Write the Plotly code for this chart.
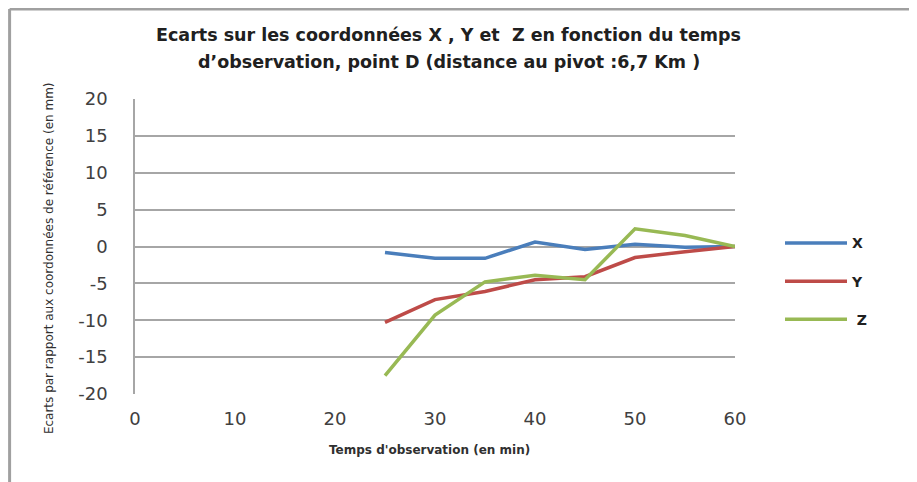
import plotly.graph_objects as go

temps = [25, 30, 35, 40, 45, 50, 55, 60]
ecart_x = [-0.8, -1.6, -1.6, 0.6, -0.4, 0.3, -0.1, 0.0]
ecart_y = [-10.3, -7.2, -6.1, -4.5, -4.1, -1.5, -0.7, 0.0]
ecart_z = [-17.5, -9.3, -4.8, -3.9, -4.5, 2.4, 1.5, 0.0]
series_names = ["X", "Y", " Z"]
x_ticks = [0, 10, 20, 30, 40, 50, 60]
y_ticks = [-20, -15, -10, -5, 0, 5, 10, 15, 20]
y_tick_labels = ["-20", "-15", "-10", "-5", "0", "5", "10", "15", "20"]

title_line1 = "Ecarts sur les coordonnées X , Y et  Z en fonction du temps"
title_line2 = "d’observation, point D (distance au pivot :6,7 Km )"
x_title = "Temps d'observation (en min)"
y_title = "Ecarts par rapport aux coordonnées de référence (en mm)"

colors = ["#4A7EBB", "#BE4B48", "#98B954"]
FONT = "DejaVu Sans"

fig = go.Figure()
for i, (name, vals) in enumerate(zip(series_names, [ecart_x, ecart_y, ecart_z])):
    fig.add_trace(go.Scatter(
        x=temps, y=vals, mode="lines", name=name,
        legendgroup=str(i),
        line=dict(color=colors[i], width=3.5),
    ))

title_font = dict(family=FONT, size=17.5, color="#202020", weight="bold")

fig.update_layout(
    width=917, height=482,
    margin=dict(l=127, r=190, t=91, b=96),
    paper_bgcolor="white", plot_bgcolor="white",
    font=dict(family=FONT, color="#404040"),
    showlegend=True,
    legend=dict(
        x=1.075, y=0.565, xanchor="left", yanchor="top",
        font=dict(family=FONT, size=14, color="#202020", weight="bold"),
        tracegroupgap=17, bgcolor="rgba(0,0,0,0)", itemwidth=62,
    ),
    xaxis=dict(
        range=[0, 60], tickvals=x_ticks, showgrid=False, zeroline=False,
        showline=False, ticks="", ticklabelstandoff=12,
        tickfont=dict(size=18, color="#404040", family=FONT),
        fixedrange=True,
    ),
    yaxis=dict(
        range=[-20, 20], tickvals=y_ticks, ticktext=y_tick_labels,
        showgrid=True, gridcolor="#a6a6a6",
        gridwidth=1.5, zeroline=False, showline=True, linecolor="#a6a6a6",
        linewidth=1.5, ticks="", ticklabelstandoff=22,
        tickfont=dict(size=18, color="#404040", family=FONT), fixedrange=True,
    ),
    annotations=[
        dict(text=title_line1, xref="paper", yref="paper", x=0.523, y=1.217,
             xanchor="center", yanchor="middle", showarrow=False, font=title_font),
        dict(text=title_line2, xref="paper", yref="paper", x=0.523, y=1.125,
             xanchor="center", yanchor="middle", showarrow=False, font=title_font),
        dict(text=x_title, xref="paper", yref="paper", x=0.49, y=-0.19,
             xanchor="center", yanchor="middle", showarrow=False,
             font=dict(family=FONT, size=12, color="#303030", weight="bold")),
        dict(text=y_title, xref="paper", yref="paper", x=-0.142, y=0.46,
             xanchor="center", yanchor="middle", showarrow=False, textangle=-90,
             font=dict(family=FONT, size=12, color="#303030")),
    ],
    shapes=[
        dict(type="line", xref="paper", yref="paper", x0=-0.209, x1=-0.209,
             y0=-0.33, y1=1.305, line=dict(color="#a0a0a0", width=3)),
        dict(type="line", xref="paper", yref="paper", x0=-0.209, x1=1.32,
             y0=1.305, y1=1.305, line=dict(color="#a0a0a0", width=3)),
    ],
)

fig.write_html("out.html")
